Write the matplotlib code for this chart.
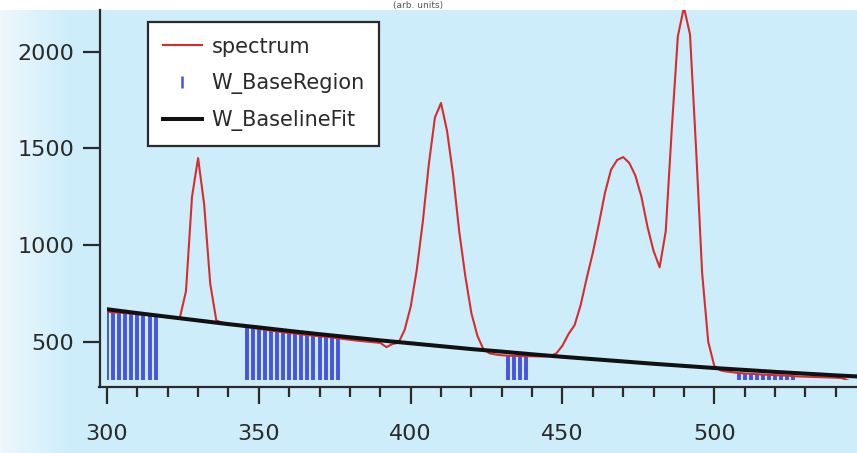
import numpy as np
import matplotlib.pyplot as plt
from matplotlib.lines import Line2D

# spectrum sampled every 2 nm
wavelength = np.arange(300, 547, 2)
spectrum = [
    655, 652, 650, 648, 645, 642, 640, 637, 635, 630,
    626, 622, 625, 760, 1250, 1450, 1210, 800, 610, 598,
    592, 588, 582, 576, 572, 566, 562, 557, 553, 549,
    545, 541, 538, 535, 531, 528, 525, 522, 518, 514,
    510, 506, 503, 500, 497, 494, 472, 488, 495, 560,
    680, 870, 1120, 1420, 1660, 1735, 1590, 1360, 1070, 840,
    648, 530, 460, 440, 434, 430, 428, 427, 426, 425,
    425, 424, 424, 426, 440, 480, 540, 586, 690, 830,
    960, 1110, 1270, 1390, 1440, 1455, 1425, 1360, 1250, 1095,
    970, 885, 1070, 1600, 2080, 2230, 2090, 1500, 855, 500,
    375, 352, 346, 342, 338, 336, 334, 332, 330, 329,
    327, 326, 324, 322, 320, 319, 318, 317, 316, 315,
    314, 312, 300, 290,
]

# baseline regions (inclusive wavelength ranges)
base_regions = [(300, 316), (346, 376), (432, 438), (508, 526)]

# fitted baseline
fit_x = np.arange(300, 551, 10)
fit_y = [668, 648, 629, 610, 591, 574, 556, 539, 523, 507, 492, 477, 462,
         449, 435, 422, 410, 398, 386, 375, 364, 354, 344, 335, 326, 318]

spectrum = np.array(spectrum, dtype=float)
in_region = np.zeros(len(wavelength), dtype=bool)
for lo, hi in base_regions:
    in_region |= (wavelength >= lo) & (wavelength <= hi)

ink = '#2a2a2a'

fig = plt.figure(figsize=(8.57, 4.53), dpi=100)
fig.patch.set_facecolor('white')

# light blue backdrop, fading to white at the far left
bg = fig.add_axes([0, 0, 1, 443 / 453])
grad = np.linspace(0, 1, 256)
grad = np.clip(grad / 0.08, 0, 1)
c0 = np.array([0.93, 0.97, 0.99])
c1 = np.array([0.804, 0.933, 0.984])
img = c0[None, :] * (1 - grad[:, None]) + c1[None, :] * grad[:, None]
bg.imshow(img[None, :, :], aspect='auto', extent=[0, 1, 0, 1])
bg.set_axis_off()

fig.text(0.488, 1 - 1 / 453, '(arb. units)', ha='center', va='top',
         fontsize=6.5, color='#555555')

ax = fig.add_axes([107 / 857, 73 / 453, 750 / 857, 370 / 453])
ax.set_facecolor('none')

ax.vlines(wavelength[in_region], 0, spectrum[in_region], color='#4654e0',
          linewidth=2.8, zorder=1)
ax.plot(wavelength, spectrum, color='#d82c2c', linewidth=1.5, zorder=2)
ax.plot(fit_x, fit_y, color='#111111', linewidth=2.9, zorder=3)

ax.set_xlim(300, 547)
ax.set_ylim(302, 2216)
ax.set_xticks([300, 350, 400, 450, 500])
ax.set_xticks(np.arange(300, 547, 10), minor=True)
ax.set_yticks([500, 1000, 1500, 2000])

for side in ['top', 'right']:
    ax.spines[side].set_visible(False)
ax.spines['left'].set_position(('outward', 5.4))
ax.spines['bottom'].set_position(('outward', 5))
for side in ['left', 'bottom']:
    ax.spines[side].set_linewidth(1.6)
    ax.spines[side].set_color(ink)
ax.spines['left'].set_bounds(266, 2216)
ax.spines['bottom'].set_bounds(297.5, 547)

ax.tick_params(axis='both', which='major', length=12, width=1.6, color=ink,
               labelsize=16, labelcolor=ink)
ax.tick_params(axis='y', pad=6)
ax.tick_params(axis='x', pad=15)
ax.tick_params(axis='x', which='minor', length=7, width=1.6, color=ink)

handles = [
    Line2D([], [], color='#d82c2c', linewidth=1.5),
    Line2D([], [], color='#4654e0', linestyle='none', marker='|',
           markersize=9, markeredgewidth=1.8),
    Line2D([], [], color='#111111', linewidth=2.9),
]
leg = ax.legend(handles, ['spectrum', 'W_BaseRegion', 'W_BaselineFit'],
                loc='upper left', bbox_to_anchor=(0.0547, 0.9676),
                borderaxespad=0, fontsize=15, frameon=True, fancybox=False,
                framealpha=1, edgecolor=ink, handlelength=1.9,
                handletextpad=0.45, borderpad=0.7, labelspacing=0.78)
leg.get_frame().set_linewidth(1.6)
for t in leg.get_texts():
    t.set_color(ink)

fig.savefig('out.png', dpi=100)
